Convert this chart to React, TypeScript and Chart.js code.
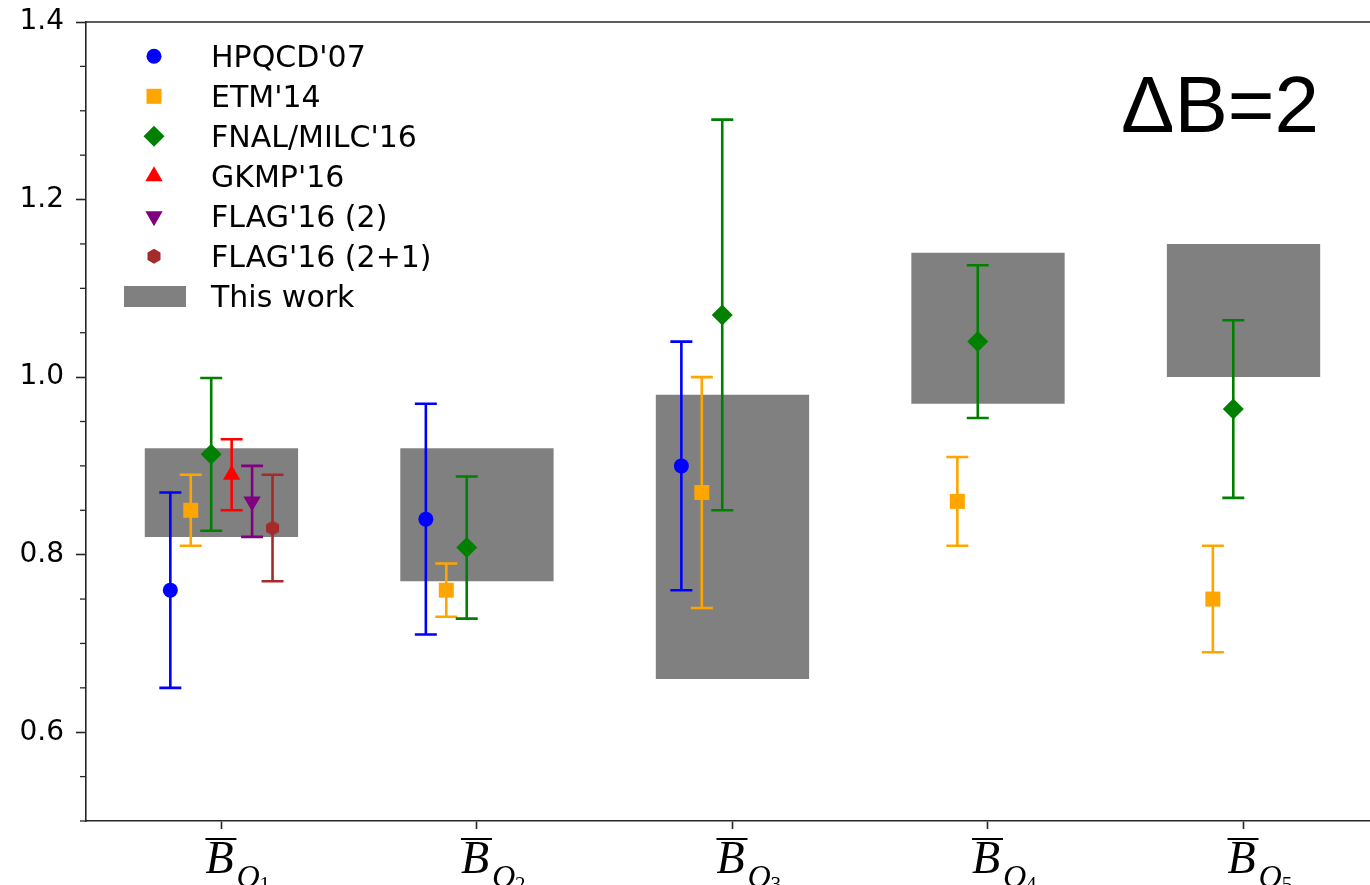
import React, { useEffect, useRef } from 'react';
import { Chart, registerables } from 'chart.js';

Chart.register(...registerables);

// ---------- data ----------
const categoryBase = 'B';
const categorySub = 'Q';
const categoryIndex = ['1', '2', '3', '4', '5'];
const xTickValues = [0, 1, 2, 3, 4];
const yMajorTicks = [0.6, 0.8, 1.0, 1.2, 1.4];
const yMinorTicks = [0.5, 0.55, 0.65, 0.7, 0.75, 0.85, 0.9, 0.95, 1.05, 1.1, 1.15, 1.25, 1.3, 1.35];

const thisWorkLow = [0.82, 0.77, 0.66, 0.97, 1.0];
const thisWorkHigh = [0.92, 0.92, 0.98, 1.14, 1.15];

const hpqcdCats = [0, 1, 2];
const hpqcdValues = [0.76, 0.84, 0.9];
const hpqcdErrors = [0.11, 0.13, 0.14];

const etmCats = [0, 1, 2, 3, 4];
const etmValues = [0.85, 0.76, 0.87, 0.86, 0.75];
const etmErrors = [0.04, 0.03, 0.13, 0.05, 0.06];

const fnalCats = [0, 1, 2, 3, 4];
const fnalValues = [0.913, 0.808, 1.07, 1.04, 0.964];
const fnalErrors = [0.086, 0.08, 0.22, 0.086, 0.1];

const gkmpCats = [0];
const gkmpValues = [0.89];
const gkmpErrors = [0.04];

const flag2Cats = [0];
const flag2Values = [0.86];
const flag2Errors = [0.04];

const flag21Cats = [0];
const flag21Values = [0.83];
const flag21Errors = [0.06];

const thisWorkLabel = 'This work';

type Series = {
  label: string;
  cats: number[];
  values: number[];
  errors: number[];
  offset: number;
  color: string;
  marker: string;
};

const series: Series[] = [
  { label: "HPQCD'07", cats: hpqcdCats, values: hpqcdValues, errors: hpqcdErrors, offset: -0.2, color: '#0000ff', marker: 'circle' },
  { label: "ETM'14", cats: etmCats, values: etmValues, errors: etmErrors, offset: -0.12, color: '#ffa500', marker: 'rect' },
  { label: "FNAL/MILC'16", cats: fnalCats, values: fnalValues, errors: fnalErrors, offset: -0.04, color: '#008000', marker: 'diamond' },
  { label: "GKMP'16", cats: gkmpCats, values: gkmpValues, errors: gkmpErrors, offset: 0.04, color: '#ff0000', marker: 'triUp' },
  { label: "FLAG'16 (2)", cats: flag2Cats, values: flag2Values, errors: flag2Errors, offset: 0.12, color: '#800080', marker: 'triDown' },
  { label: "FLAG'16 (2+1)", cats: flag21Cats, values: flag21Values, errors: flag21Errors, offset: 0.2, color: '#a52a2a', marker: 'hexagon' },
];

const BOX_COLOR = '#808080';
const AXIS_COLOR = '#262626';

function hexPath(ctx: CanvasRenderingContext2D, cx: number, cy: number, r: number) {
  ctx.beginPath();
  for (let k = 0; k < 6; k++) {
    const a = -Math.PI / 2 + (k * Math.PI) / 3;
    const px = cx + r * Math.cos(a);
    const py = cy + r * Math.sin(a);
    if (k === 0) ctx.moveTo(px, py);
    else ctx.lineTo(px, py);
  }
  ctx.closePath();
}

function makeHexagon(color: string, r: number) {
  const c = document.createElement('canvas');
  const w = Math.ceil(2 * r * 0.866) + 2;
  const h = Math.ceil(2 * r) + 2;
  c.width = w;
  c.height = h;
  const g = c.getContext('2d')!;
  g.fillStyle = color;
  hexPath(g, w / 2, h / 2, r);
  g.fill();
  return c;
}

function drawLegendMarker(ctx: CanvasRenderingContext2D, marker: string, x: number, y: number, color: string) {
  ctx.fillStyle = color;
  ctx.beginPath();
  if (marker === 'circle') {
    ctx.arc(x, y, 7.5, 0, Math.PI * 2);
  } else if (marker === 'rect') {
    ctx.rect(x - 7.5, y - 7.5, 15, 15);
  } else if (marker === 'diamond') {
    ctx.moveTo(x, y - 10.5);
    ctx.lineTo(x + 10.5, y);
    ctx.lineTo(x, y + 10.5);
    ctx.lineTo(x - 10.5, y);
    ctx.closePath();
  } else if (marker === 'triUp' || marker === 'triDown') {
    const r = 10;
    const s = marker === 'triUp' ? 1 : -1;
    ctx.moveTo(x, y - s * r);
    ctx.lineTo(x + r * 0.866, y + s * r * 0.5);
    ctx.lineTo(x - r * 0.866, y + s * r * 0.5);
    ctx.closePath();
  } else if (marker === 'hexagon') {
    hexPath(ctx, x, y, 7.5);
  }
  ctx.fill();
}

export default function App() {
  const canvasRef = useRef<HTMLCanvasElement | null>(null);

  useEffect(() => {
    document.body.style.margin = '0';
    const canvas = canvasRef.current;
    if (!canvas) return;

    const hexImg = makeHexagon('#a52a2a', 7.5);

    const pointCfg: Record<string, any> = {
      circle: { pointStyle: 'circle', pointRadius: 7.5, rotation: 0 },
      rect: { pointStyle: 'rect', pointRadius: 10.6, rotation: 0 },
      diamond: { pointStyle: 'rectRot', pointRadius: 10.5, rotation: 0 },
      triUp: { pointStyle: 'triangle', pointRadius: 10, rotation: 0 },
      triDown: { pointStyle: 'triangle', pointRadius: 10, rotation: 180 },
      hexagon: { pointStyle: hexImg, pointRadius: 7.5, rotation: 0 },
    };

    const scatterSets = series.map((s, si) => ({
      type: 'scatter' as const,
      label: s.label,
      data: s.values.map((v, j) => ({ x: s.cats[j] + s.offset, y: v })),
      backgroundColor: s.color,
      borderColor: s.color,
      borderWidth: 0,
      pointBorderWidth: 0,
      pointStyle: pointCfg[s.marker].pointStyle,
      pointRadius: pointCfg[s.marker].pointRadius,
      pointHoverRadius: pointCfg[s.marker].pointRadius,
      pointRotation: pointCfg[s.marker].rotation,
      showLine: false,
      order: 10 - si,
    }));

    const barSet = {
      type: 'bar' as const,
      label: thisWorkLabel,
      data: xTickValues.map((x, i) => ({ x, y: [thisWorkLow[i], thisWorkHigh[i]] })),
      backgroundColor: BOX_COLOR,
      borderWidth: 0,
      categoryPercentage: 1,
      barPercentage: 0.6,
      order: 100,
    };

    const errorBarPlugin = {
      id: 'errorBars',
      beforeDatasetDraw(chart: any, args: any) {
        const ds = chart.data.datasets[args.index];
        const s = series.find((q) => q.label === ds.label);
        if (!s) return;
        const ctx: CanvasRenderingContext2D = chart.ctx;
        const xs = chart.scales.x;
        const ys = chart.scales.y;
        ctx.save();
        ctx.strokeStyle = s.color;
        ctx.lineWidth = 2.6;
        s.values.forEach((v, j) => {
          const x = xs.getPixelForValue(s.cats[j] + s.offset);
          const y1 = ys.getPixelForValue(v - s.errors[j]);
          const y2 = ys.getPixelForValue(v + s.errors[j]);
          ctx.beginPath();
          ctx.moveTo(x, y1);
          ctx.lineTo(x, y2);
          ctx.moveTo(x - 11, y1);
          ctx.lineTo(x + 11, y1);
          ctx.moveTo(x - 11, y2);
          ctx.lineTo(x + 11, y2);
          ctx.stroke();
        });
        ctx.restore();
      },
    };

    const decorPlugin = {
      id: 'decor',
      afterDraw(chart: any) {
        const ctx: CanvasRenderingContext2D = chart.ctx;
        const area = chart.chartArea;
        const xs = chart.scales.x;
        const ys = chart.scales.y;
        ctx.save();

        // top spine
        ctx.strokeStyle = AXIS_COLOR;
        ctx.lineWidth = 1.6;
        ctx.beginPath();
        ctx.moveTo(area.left - 0.8, area.top);
        ctx.lineTo(area.right, area.top);
        ctx.stroke();

        // minor y ticks
        ctx.lineWidth = 1.3;
        yMinorTicks.forEach((v) => {
          const y = ys.getPixelForValue(v);
          ctx.beginPath();
          ctx.moveTo(area.left - 6, y);
          ctx.lineTo(area.left, y);
          ctx.stroke();
        });

        // x tick labels: overline B with subscript Q_i
        ctx.fillStyle = '#000';
        ctx.textAlign = 'left';
        ctx.textBaseline = 'alphabetic';
        const base = area.bottom;
        xTickValues.forEach((v, i) => {
          const x0 = xs.getPixelForValue(v);
          ctx.font = 'italic 46px "Liberation Serif"';
          ctx.fillText(categoryBase, x0 - 16, base + 52);
          ctx.fillRect(x0 - 16, base + 17, 31, 2);
          ctx.font = 'italic 32px "Liberation Serif"';
          ctx.fillText(categorySub, x0 + 15, base + 66);
          const qw = ctx.measureText(categorySub).width;
          ctx.font = '21px "Liberation Serif"';
          ctx.fillText(categoryIndex[i], x0 + 15 + qw, base + 70);
        });

        // annotation
        ctx.font = '80px "Liberation Sans"';
        ctx.fillText('\u0394B=2', area.left + 1035, area.top + 110);

        // legend
        const lx = area.left + 68;
        const tx = area.left + 125;
        series.forEach((s, k) => {
          const baseline = area.top + 45 + 40 * k;
          drawLegendMarker(ctx, s.marker, lx, baseline - 10.7, s.color);
          ctx.fillStyle = '#000';
          ctx.font = '30px "DejaVu Sans"';
          ctx.fillText(s.label, tx, baseline);
        });
        const bl = area.top + 45 + 40 * series.length;
        ctx.fillStyle = BOX_COLOR;
        ctx.fillRect(area.left + 38, bl - 21, 62, 21);
        ctx.fillStyle = '#000';
        ctx.font = '30px "DejaVu Sans"';
        ctx.fillText(thisWorkLabel, tx, bl);

        ctx.restore();
      },
    };

    const chart = new Chart(canvas, {
      type: 'scatter',
      data: { datasets: [barSet as any, ...(scatterSets as any[])] },
      options: {
        responsive: false,
        animation: false,
        devicePixelRatio: 1,
        events: [],
        layout: { autoPadding: false, padding: { left: 0, top: 22, right: 0, bottom: 0 } },
        plugins: { legend: { display: false }, tooltip: { enabled: false } },
        scales: {
          x: {
            type: 'linear',
            min: -0.53,
            max: 4.495,
            offset: false,
            afterBuildTicks: (scale: any) => {
              scale.ticks = xTickValues.map((v) => ({ value: v }));
            },
            afterFit: (scale: any) => {
              scale.height = 64;
              scale.paddingLeft = 0;
              scale.paddingRight = 0;
              scale.paddingTop = 0;
              scale.paddingBottom = 0;
            },
            ticks: { autoSkip: false, callback: () => '', font: { size: 10 } },
            grid: {
              offset: false,
              drawOnChartArea: false,
              drawTicks: true,
              tickLength: 8,
              color: AXIS_COLOR,
              tickColor: AXIS_COLOR,
              tickWidth: 1.6,
            },
            border: { display: true, color: AXIS_COLOR, width: 1.6 },
          },
          y: {
            type: 'linear',
            min: 0.5,
            max: 1.4,
            afterBuildTicks: (scale: any) => {
              scale.ticks = [...yMinorTicks, ...yMajorTicks]
                .sort((a, b) => a - b)
                .map((v) => ({ value: v }));
            },
            afterFit: (scale: any) => {
              scale.width = 86;
              scale.paddingTop = 0;
              scale.paddingBottom = 0;
              scale.paddingLeft = 0;
              scale.paddingRight = 0;
            },
            ticks: {
              autoSkip: false,
              padding: 12,
              color: '#000',
              font: { family: 'DejaVu Sans', size: 28 },
              callback: (value: any) => {
                const v = Number(value);
                return yMajorTicks.some((m) => Math.abs(m - v) < 1e-6) ? v.toFixed(1) : '';
              },
            },
            grid: {
              drawOnChartArea: false,
              drawTicks: true,
              tickLength: 10,
              color: 'rgba(0,0,0,0)',
              tickColor: (c: any) =>
                c.tick && yMajorTicks.some((m) => Math.abs(m - c.tick.value) < 1e-6) ? AXIS_COLOR : 'rgba(0,0,0,0)',
              tickWidth: 1.6,
            },
            border: { display: true, color: AXIS_COLOR, width: 1.6 },
          },
        },
      },
      plugins: [errorBarPlugin, decorPlugin],
    });

    return () => chart.destroy();
  }, []);

  return (
    <div style={{ width: 1370, height: 885, overflow: 'hidden', background: '#fff' }}>
      <canvas ref={canvasRef} width={1370} height={885} style={{ display: 'block', width: 1370, height: 885 }} />
    </div>
  );
}
